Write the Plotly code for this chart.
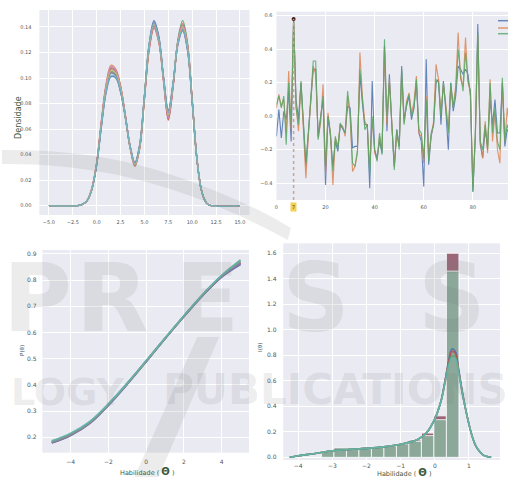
import plotly.graph_objects as go

# ---------------- data ----------------
# Top-left: density curves
dens_x = [-5, -2, -1.5, -1, -0.5, 0, 0.5, 1, 1.5, 2, 2.5, 3, 3.5, 4, 4.5, 5, 5.5, 6, 6.5, 7,
          7.5, 8, 8.5, 9, 9.5, 10, 10.5, 11, 11.5, 12, 15]
dens_1 = [0, 0, 0.001, 0.004, 0.013, 0.032, 0.062, 0.089, 0.101, 0.100, 0.089, 0.069, 0.046, 0.033, 0.047, 0.086,
          0.127, 0.145, 0.133, 0.101, 0.075, 0.096, 0.127, 0.138, 0.123, 0.081, 0.036, 0.011, 0.002, 0, 0]
dens_2 = [0, 0, 0.001, 0.004, 0.014, 0.034, 0.067, 0.096, 0.110, 0.107, 0.094, 0.071, 0.046, 0.031, 0.045, 0.083,
          0.122, 0.139, 0.128, 0.097, 0.068, 0.094, 0.129, 0.143, 0.127, 0.083, 0.037, 0.011, 0.002, 0, 0]
dens_3 = [0, 0, 0.001, 0.004, 0.013, 0.033, 0.064, 0.092, 0.105, 0.103, 0.091, 0.070, 0.046, 0.032, 0.046, 0.085,
          0.125, 0.141, 0.130, 0.099, 0.071, 0.095, 0.130, 0.145, 0.128, 0.083, 0.036, 0.011, 0.002, 0, 0]
dens_4 = [0, 0, 0.001, 0.004, 0.013, 0.033, 0.066, 0.094, 0.107, 0.105, 0.093, 0.071, 0.046, 0.032, 0.045, 0.084,
          0.123, 0.140, 0.129, 0.098, 0.067, 0.093, 0.128, 0.142, 0.126, 0.082, 0.036, 0.011, 0.002, 0, 0]
dens_5 = [0, 0, 0.001, 0.004, 0.013, 0.032, 0.063, 0.091, 0.104, 0.102, 0.090, 0.070, 0.047, 0.034, 0.048, 0.086,
          0.126, 0.144, 0.132, 0.100, 0.073, 0.095, 0.126, 0.137, 0.122, 0.081, 0.036, 0.011, 0.002, 0, 0]
dens_6 = [0, 0, 0.001, 0.004, 0.013, 0.033, 0.065, 0.094, 0.108, 0.106, 0.093, 0.070, 0.045, 0.031, 0.045, 0.084,
          0.124, 0.141, 0.130, 0.099, 0.070, 0.094, 0.128, 0.141, 0.125, 0.082, 0.036, 0.011, 0.002, 0, 0]
dens_7 = [0, 0, 0.001, 0.004, 0.014, 0.034, 0.066, 0.095, 0.109, 0.106, 0.093, 0.071, 0.046, 0.032, 0.046, 0.085,
          0.124, 0.140, 0.129, 0.098, 0.069, 0.094, 0.129, 0.142, 0.126, 0.083, 0.037, 0.011, 0.002, 0, 0]
dens_8 = [0, 0, 0.001, 0.004, 0.013, 0.033, 0.064, 0.092, 0.104, 0.102, 0.090, 0.069, 0.046, 0.033, 0.047, 0.086,
          0.126, 0.143, 0.131, 0.100, 0.074, 0.096, 0.127, 0.139, 0.124, 0.082, 0.036, 0.011, 0.002, 0, 0]
dens_9 = [0, 0, 0.001, 0.004, 0.013, 0.033, 0.065, 0.093, 0.106, 0.104, 0.092, 0.070, 0.046, 0.032, 0.046, 0.085,
          0.125, 0.142, 0.130, 0.099, 0.071, 0.095, 0.128, 0.140, 0.125, 0.082, 0.036, 0.011, 0.002, 0, 0]
dens_10 = [0, 0, 0.001, 0.004, 0.013, 0.032, 0.063, 0.090, 0.102, 0.101, 0.090, 0.070, 0.047, 0.033, 0.047, 0.086,
           0.127, 0.143, 0.131, 0.100, 0.073, 0.096, 0.127, 0.138, 0.123, 0.081, 0.036, 0.011, 0.002, 0, 0]
dens_series = [dens_1, dens_2, dens_3, dens_4, dens_5, dens_6, dens_7, dens_8, dens_9, dens_10]

# Top-right: three noisy series
ts_x = list(range(96))
ts_blue = [-0.12, 0.04, -0.13, 0.03, -0.02, 0.15, -0.15, 0.58, 0.10, -0.02,
           0.20, -0.05, -0.30, -0.10, 0.12, 0.28, 0.28, -0.12, 0.00, 0.10,
           -0.41, 0.00, -0.12, -0.30, -0.15, -0.21, -0.05, -0.08, -0.10, 0.06,
           0.05, -0.19, -0.18, -0.18, 0.25, 0.08, -0.05, -0.05, -0.43, 0.21,
           -0.20, -0.25, -0.15, -0.22, 0.42, -0.09, 0.25, -0.05, -0.30, -0.08,
           -0.18, 0.30, -0.02, 0.06, 0.12, -0.02, 0.05, 0.20, -0.10, -0.15,
           -0.42, 0.34, -0.29, -0.12, -0.05, 0.20, 0.22, -0.05, 0.21, 0.03,
           -0.20, 0.20, 0.03, 0.12, 0.30, 0.28, 0.25, 0.28, 0.25, 0.12,
           -0.45, -0.12, 0.55, -0.17, -0.25, -0.08, -0.18, 0.10, -0.05, 0.10,
           -0.10, -0.10, 0.20, -0.18, -0.08, -0.10]
ts_orange = [0.05, 0.13, 0.06, 0.10, -0.10, 0.27, -0.08, 0.58, 0.06, -0.09,
             0.20, -0.06, -0.37, -0.12, 0.10, 0.30, 0.25, -0.13, -0.04, 0.19,
             -0.35, 0.02, -0.10, -0.41, -0.13, -0.18, -0.05, -0.06, -0.12, 0.12,
             0.00, -0.33, -0.30, -0.22, 0.38, 0.12, -0.03, -0.06, -0.30, -0.02,
             -0.22, -0.26, -0.12, -0.20, 0.40, -0.05, 0.22, -0.07, -0.30, -0.10,
             -0.18, 0.25, -0.04, 0.09, 0.14, 0.02, 0.08, 0.24, -0.10, -0.12,
             -0.28, 0.12, -0.25, -0.12, -0.03, 0.31, 0.22, 0.02, 0.19, 0.07,
             -0.08, 0.18, 0.06, 0.18, 0.50, 0.22, 0.18, 0.47, 0.20, 0.15,
             -0.42, -0.13, 0.48, -0.15, -0.25, -0.03, -0.22, 0.22, -0.15, 0.02,
             -0.20, -0.28, 0.20, -0.15, 0.05, -0.08]
ts_green = [0.07, 0.12, 0.05, 0.12, -0.17, 0.20, -0.05, 0.58, 0.05, -0.05,
            0.21, -0.05, -0.28, -0.10, 0.12, 0.33, 0.33, -0.14, -0.02, 0.12,
            -0.30, 0.00, -0.10, -0.33, -0.12, -0.20, -0.04, -0.07, -0.10, 0.15,
            0.02, -0.28, -0.30, -0.20, 0.28, 0.10, -0.08, -0.05, -0.35, 0.00,
            -0.20, -0.27, -0.10, -0.23, 0.46, 0.00, 0.20, -0.05, -0.32, -0.08,
            -0.20, 0.28, -0.05, 0.08, 0.13, 0.00, 0.05, 0.22, -0.08, -0.10,
            -0.25, 0.10, -0.27, -0.10, -0.05, 0.22, 0.20, 0.00, 0.20, 0.05,
            -0.10, 0.20, 0.05, 0.15, 0.40, 0.25, 0.15, 0.38, 0.22, 0.15,
            -0.45, -0.10, 0.50, -0.15, -0.20, -0.05, -0.20, 0.20, -0.10, 0.05,
            -0.15, -0.20, 0.23, -0.15, -0.05, -0.10]
hl_x = 7
hl_y = 0.58
hl_label = "7"

# Bottom-left: P(theta) curves
p_x = [-5, -4, -3, -2, -1, 0, 1, 2, 3, 4, 5]
p_1 = [0.178, 0.207, 0.252, 0.322, 0.403, 0.489, 0.576, 0.661, 0.742, 0.812, 0.860]
p_2 = [0.180, 0.209, 0.254, 0.324, 0.405, 0.490, 0.577, 0.662, 0.743, 0.814, 0.866]
p_3 = [0.179, 0.208, 0.253, 0.323, 0.404, 0.490, 0.577, 0.661, 0.742, 0.813, 0.863]
p_4 = [0.184, 0.213, 0.257, 0.326, 0.406, 0.491, 0.578, 0.663, 0.745, 0.817, 0.876]
p_5 = [0.181, 0.210, 0.255, 0.325, 0.405, 0.490, 0.577, 0.662, 0.744, 0.815, 0.869]
p_6 = [0.186, 0.215, 0.259, 0.327, 0.407, 0.492, 0.579, 0.664, 0.746, 0.818, 0.877]
p_series = [p_1, p_2, p_3, p_4, p_5, p_6]

# Bottom-right: information histograms + KDE
bin_centers = [-3.137, -2.771, -2.405, -2.039, -1.673, -1.307, -0.941, -0.575, -0.209, 0.157, 0.523]
bin_width = 0.366
hist_red = [0.050, 0.070, 0.070, 0.080, 0.085, 0.095, 0.110, 0.135, 0.190, 0.325, 1.600]
hist_green = [0.048, 0.075, 0.068, 0.078, 0.083, 0.090, 0.105, 0.125, 0.170, 0.295, 1.460]
kde_x = [-4.25, -4, -3.5, -3, -2.5, -2, -1.5, -1, -0.5, -0.25, 0, 0.1, 0.2, 0.3, 0.4, 0.5, 0.6, 0.7,
         0.8, 0.9, 1.0, 1.1, 1.2, 1.3, 1.4, 1.5, 1.65]
kde_blue = [0, 0.012, 0.030, 0.052, 0.062, 0.070, 0.082, 0.103, 0.140, 0.190, 0.300, 0.370, 0.460, 0.600,
            0.750, 0.850, 0.830, 0.690, 0.520, 0.380, 0.260, 0.160, 0.090, 0.050, 0.022, 0.008, 0]
kde_red = [0, 0.012, 0.030, 0.052, 0.062, 0.070, 0.082, 0.103, 0.140, 0.190, 0.300, 0.370, 0.460, 0.600,
           0.740, 0.830, 0.815, 0.680, 0.520, 0.380, 0.260, 0.160, 0.090, 0.050, 0.022, 0.008, 0]
kde_green = [0, 0.012, 0.030, 0.052, 0.062, 0.070, 0.082, 0.103, 0.140, 0.190, 0.300, 0.370, 0.460, 0.590,
             0.720, 0.795, 0.785, 0.665, 0.510, 0.380, 0.260, 0.160, 0.090, 0.050, 0.022, 0.008, 0]
kde_teal = [0, 0.012, 0.030, 0.052, 0.062, 0.070, 0.082, 0.103, 0.140, 0.190, 0.300, 0.370, 0.455, 0.585,
            0.710, 0.780, 0.775, 0.660, 0.510, 0.380, 0.260, 0.160, 0.090, 0.050, 0.022, 0.008, 0]

# Publisher watermark text seen over the picture
wm_big_letters = ["P", "R", "E", "S", "S"]
wm_small_words = ["LOGY", "PUBLICATIONS"]

# ---------------- style ----------------
W, H = 508, 477
BG = "#EAEAF2"
TICK_C = "#555555"
LABEL_C = "#3b5a3b"
WM_C = "rgba(120,120,128,0.14)"
deep = ["#4C72B0", "#DD8452", "#55A868", "#C44E52", "#8172B3",
        "#937860", "#DA8BC3", "#8C8C8C", "#CCB974", "#64B5CD"]


def px_x(a, b):
    return [a / W, b / W]


def px_y(top, bottom):
    return [1 - bottom / H, 1 - top / H]


def pp(x, y):
    return "{:.5f} {:.5f}".format(x / W, 1 - y / H)


fig = go.Figure()

for i, s in enumerate(dens_series):
    fig.add_trace(go.Scatter(x=dens_x, y=s, mode="lines", line=dict(color=deep[i], width=1.3, shape="spline"),
                             opacity=0.85, xaxis="x", yaxis="y", showlegend=False))

for s, c in [(ts_blue, deep[0]), (ts_orange, deep[1]), (ts_green, deep[2])]:
    fig.add_trace(go.Scatter(x=ts_x, y=s, mode="lines", line=dict(color=c, width=1.1),
                             opacity=0.85, xaxis="x2", yaxis="y2", showlegend=False))
fig.add_trace(go.Scatter(x=[hl_x], y=[hl_y], mode="markers", marker=dict(color="#4a1e10", size=4),
                         xaxis="x2", yaxis="y2", showlegend=False))

p_cols = ["#4C72B0", "#C44E52", "#8172B3", "#55A868", "#8C8C8C", "#64B5AD"]
for s, c in zip(p_series, p_cols):
    fig.add_trace(go.Scatter(x=p_x, y=s, mode="lines", line=dict(color=c, width=1.8, shape="spline"),
                             opacity=0.9, xaxis="x3", yaxis="y3", showlegend=False))

fig.add_trace(go.Bar(x=bin_centers, y=hist_red, width=bin_width, marker=dict(color="#9a6878",
                     line=dict(color="white", width=0.8)), xaxis="x4", yaxis="y4", showlegend=False))
fig.add_trace(go.Bar(x=bin_centers, y=hist_green, width=bin_width, marker=dict(color="#8ba89b",
                     line=dict(color="white", width=0.8)), xaxis="x4", yaxis="y4", showlegend=False))
for s, c in [(kde_blue, "#4C72B0"), (kde_red, "#C44E52"), (kde_green, "#55A868"), (kde_teal, "#64B5AD")]:
    fig.add_trace(go.Scatter(x=kde_x, y=s, mode="lines", line=dict(color=c, width=1.6, shape="spline"),
                             opacity=0.9, xaxis="x4", yaxis="y4", showlegend=False))


def ax(domain, rng, tickvals, anchor, fmt=None, size=5, ticklen=2):
    d = dict(domain=domain, range=rng, tickvals=tickvals, anchor=anchor, showgrid=True, gridcolor="white",
             gridwidth=0.8, zeroline=False, showline=False, ticks="outside", ticklen=ticklen,
             tickcolor="rgba(0,0,0,0)", tickfont=dict(family="DejaVu Sans", color=TICK_C, size=size))
    if fmt:
        d["tickformat"] = fmt
    return d


fig.update_layout(
    width=W, height=H, autosize=False, margin=dict(l=0, r=0, t=0, b=0),
    paper_bgcolor="white", plot_bgcolor=BG, barmode="overlay", showlegend=False,
    xaxis=ax(px_x(37.5, 248.5), [-6, 16], [-5, -2.5, 0, 2.5, 5, 7.5, 10, 12.5, 15], "y", ".1f", 5, 2),
    yaxis=ax(px_y(10, 215), [-0.0073, 0.1533], [0, 0.02, 0.04, 0.06, 0.08, 0.10, 0.12, 0.14], "x", ".2f", 5, 6),
    xaxis2=ax(px_x(275.5, 508), [0, 94.3], [0, 20, 40, 60, 80], "y2", None, 5, 2),
    yaxis2=ax(px_y(11.7, 200), [-0.5, 0.624], [-0.4, -0.2, 0, 0.2, 0.4, 0.6], "x2", ".1f", 5, 2),
    xaxis3=ax(px_x(40.5, 248), [-5.5, 5.45], [-4, -2, 0, 2, 4], "y3", None, 6, 3),
    yaxis3=ax(px_y(250, 452.7), [0.141, 0.915], [0.2, 0.3, 0.4, 0.5, 0.6, 0.7, 0.8, 0.9], "x3", ".1f", 6, 3.5),
    xaxis4=ax(px_x(282.3, 500), [-4.44, 1.91], [-4, -3, -2, -1, 0, 1], "y4", None, 6, 0),
    yaxis4=ax(px_y(243.3, 460), [-0.021, 1.678], [0, 0.2, 0.4, 0.6, 0.8, 1.0, 1.2, 1.4, 1.6], "x4", ".1f", 6, 4.5),
)

# highlight line on the top-right chart
fig.add_shape(type="line", xref="x2", yref="y2", x0=hl_x, x1=hl_x, y0=-0.5, y1=hl_y,
              line=dict(color="#c9a594", width=1.5, dash="dot"))
fig.add_annotation(xref="x2", yref="paper", x=hl_x, y=1 - 207 / H, xanchor="center", yanchor="middle",
                   text=hl_label, showarrow=False,
                   font=dict(size=5, color="#6b4a00", family="DejaVu Sans"), bgcolor="#f2cf55", borderpad=1)
# legend swatches (cut at the right edge)
for yy, c in [(20.7, deep[0]), (28, deep[1]), (33.7, deep[2])]:
    fig.add_shape(type="line", xref="paper", yref="paper", x0=498 / W, x1=1.02, y0=1 - yy / H, y1=1 - yy / H,
                  line=dict(color=c, width=1.5), opacity=0.8)

# axis labels
def label(x, y, text, size, color, angle=0):
    fig.add_annotation(xref="paper", yref="paper", x=x / W, y=1 - y / H, xanchor="center", yanchor="middle",
                       text=text, textangle=angle, showarrow=False, borderpad=0,
                       font=dict(size=size, color=color, family="DejaVu Sans"))


label(17, 117, "Densidade", 8, LABEL_C, -90)
label(20, 350, "P(θ)", 5.5, "#444444", -90)
label(259, 347, "I(θ)", 5.5, "#444444", -90)
hab = "Habilidade ( <b><span style='font-size:10px'>Θ</span></b> )"
label(146, 471, hab, 6.5, LABEL_C)
label(404, 472, hab, 6.5, LABEL_C)

# ---- watermark (faint, above the charts) ----
swoosh = ("M " + pp(0, 150) + " C " + pp(70, 149) + " " + pp(130, 160) + " " + pp(180, 178)
          + " C " + pp(225, 194) + " " + pp(265, 212) + " " + pp(290, 228)
          + " L " + pp(287, 240) + " C " + pp(258, 224) + " " + pp(220, 206) + " " + pp(175, 191)
          + " C " + pp(125, 174) + " " + pp(65, 163) + " " + pp(0, 164) + " Z")
fig.add_shape(type="path", xref="paper", yref="paper", layer="above", line=dict(width=0), fillcolor=WM_C,
              path=swoosh)
slash = "M " + pp(133, 477) + " L " + pp(157, 477) + " L " + pp(218, 337) + " L " + pp(196, 337) + " Z"
fig.add_shape(type="path", xref="paper", yref="paper", layer="above", line=dict(width=0), fillcolor=WM_C,
              path=slash)
for letter, cx in zip(wm_big_letters, [36, 110, 206, 315, 452]):
    label(cx, 298, "<b>" + letter + "</b>", 94, WM_C)
fig.add_annotation(xref="paper", yref="paper", x=125 / W, y=1 - 392 / H, xanchor="right", yanchor="middle",
                   text="<b>" + wm_small_words[0] + "</b>", showarrow=False,
                   font=dict(size=38, color=WM_C, family="DejaVu Sans"))
fig.add_annotation(xref="paper", yref="paper", x=160 / W, y=1 - 389 / H, xanchor="left", yanchor="middle",
                   text="<b>" + wm_small_words[1] + "</b>", showarrow=False,
                   font=dict(size=42, color=WM_C, family="DejaVu Sans"))

fig.write_html("out.html")
